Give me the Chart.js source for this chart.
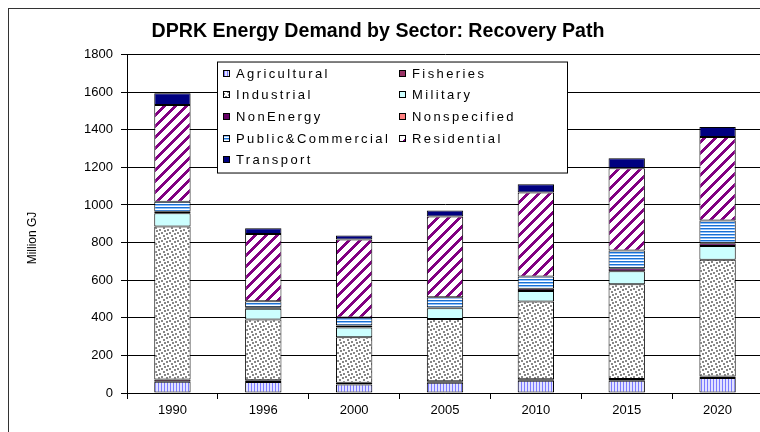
<!DOCTYPE html>
<html>
<head>
<meta charset="utf-8">
<script src="https://cdn.jsdelivr.net/npm/chart.js@4.4.1/dist/chart.umd.min.js"></script>
<style>
  html, body { margin: 0; padding: 0; background: #fff; overflow: hidden; width: 760px; height: 432px; }
  #frame { position: absolute; left: 8px; top: 8px; width: 800px; height: 460px; border: 1px solid #333; }
  #chart { position: absolute; left: -7px; top: 0; }
</style>
</head>
<body>
<div id="frame"></div>
<canvas id="chart" width="770" height="432"></canvas>
<script>
const years = ['1990', '1996', '2000', '2005', '2010', '2015', '2020']
const sectors = ['Agricultural', 'Fisheries', 'Industrial', 'Military', 'NonEnergy', 'Nonspecified', 'Public&Commercial', 'Residential', 'Transport']

// Million GJ
const agricultural = [60, 58, 45, 55, 65, 65, 80]
const fisheries = [12, 10, 9, 7, 8, 10, 8]
const industrial = [813, 323, 243, 331, 414, 503, 620]
const military = [71, 57, 51, 58, 55, 70, 74]
const nonEnergy = [8, 8, 11, 4, 12, 15, 15]
const nonSpecified = [0, 0, 0, 0, 0, 0, 0]
const publicCommercial = [53, 32, 42, 54, 66, 95, 120]
const residential = [515, 357, 415, 430, 446, 437, 445]
const transport = [62, 31, 21, 32, 44, 53, 53]

const yTicks = [0, 200, 400, 600, 800, 1000, 1200, 1400, 1600, 1800]

const FONT = '"Liberation Sans", Arial, sans-serif'

function makePattern (w, h, paint) {
  const c = document.createElement('canvas')
  c.width = w
  c.height = h
  const g = c.getContext('2d')
  g.fillStyle = '#fff'
  g.fillRect(0, 0, w, h)
  paint(g)
  return g.createPattern(c, 'repeat')
}

const vertLines = makePattern(3, 3, (g) => {
  g.fillStyle = '#e2e2ff'
  g.fillRect(1, 0, 2, 3)
  g.fillStyle = '#7a7aff'
  g.fillRect(0, 0, 1, 3)
})

const confetti = makePattern(8, 8, (g) => {
  g.fillStyle = '#888';
  [[0, 0], [5, 1], [2, 3], [6, 5], [3, 6]].forEach(([x, y]) => g.fillRect(x, y, 2, 2))
})

const horizLines = makePattern(3, 3, (g) => {
  g.fillStyle = '#1a6fd0'
  g.fillRect(0, 0, 3, 1)
  g.fillStyle = '#8cc0ff'
  g.fillRect(0, 1, 3, 1)
})

const diagStripes = makePattern(11, 11, (g) => {
  g.fillStyle = '#800080'
  for (let x = 0; x < 11; x++) {
    for (let y = 0; y < 11; y++) {
      if ((x + y) % 11 < 4) g.fillRect(x, y, 1, 1)
    }
  }
})

const fills = [vertLines, '#993366', confetti, '#ccffff', '#660066', '#ff8080', horizLines, diagStripes, '#000080']
const series = [agricultural, fisheries, industrial, military, nonEnergy, nonSpecified, publicCommercial, residential, transport]

const datasets = sectors.map((name, i) => ({
  label: name,
  data: series[i],
  backgroundColor: fills[i],
  borderColor: '#000',
  borderWidth: 1,
  borderSkipped: false,
  barPercentage: 0.4,
  categoryPercentage: 1
}))

// legend box inside the plot (two columns) and the rotated axis title
const legendBox = {
  id: 'legendBox',
  afterDraw (chart) {
    const { ctx, chartArea } = chart
    const x0 = chartArea.left + 90
    const y0 = chartArea.top + 7
    ctx.save()
    ctx.fillStyle = '#fff'
    ctx.fillRect(x0, y0, 350, 111)
    ctx.strokeStyle = '#000'
    ctx.lineWidth = 1
    ctx.strokeRect(x0 + 0.5, y0 + 0.5, 350, 111)
    ctx.font = '13px ' + FONT
    ctx.letterSpacing = '2.4px'
    ctx.textBaseline = 'middle'
    chart.data.datasets.forEach((ds, i) => {
      const col = i % 2
      const row = Math.floor(i / 2)
      const sx = x0 + 6 + col * 176
      const sy = Math.round(y0 + 11 + row * 21.7)
      ctx.fillStyle = ds.backgroundColor
      ctx.fillRect(sx, sy - 3, 7, 7)
      ctx.strokeStyle = '#000'
      ctx.strokeRect(sx + 0.5, sy - 2.5, 6, 6)
      ctx.fillStyle = '#000'
      ctx.fillText(ds.label, sx + 13, sy + 1)
    })
    ctx.restore()

    ctx.save()
    ctx.translate(40, 238)
    ctx.rotate(-Math.PI / 2)
    ctx.font = '12px ' + FONT
    ctx.fillStyle = '#000'
    ctx.textAlign = 'center'
    ctx.textBaseline = 'middle'
    ctx.fillText('Million GJ', 0, 0)
    ctx.restore()
  }
}

// eslint-disable-next-line no-new
new Chart(document.getElementById('chart'), {
  type: 'bar',
  data: { labels: years, datasets },
  plugins: [legendBox],
  options: {
    responsive: false,
    animation: false,
    layout: { padding: 0 },
    plugins: {
      legend: { display: false },
      tooltip: { enabled: false },
      title: {
        display: true,
        text: 'DPRK Energy Demand by Sector: Recovery Path',
        color: '#000',
        font: { family: FONT, size: 19.6, weight: 'bold' },
        padding: { top: 20, bottom: 11 }
      }
    },
    scales: {
      x: {
        stacked: true,
        afterFit (scale) { scale.height = 39 },
        grid: { display: true, drawOnChartArea: false, drawTicks: true, tickLength: 6, color: '#000', offset: true },
        border: { display: true, color: '#000', width: 1 },
        ticks: { color: '#000', padding: 4, font: { family: FONT, size: 13 } }
      },
      y: {
        stacked: true,
        min: 0,
        max: 1800,
        afterFit (scale) { scale.width = 134 },
        afterBuildTicks (scale) { scale.ticks = yTicks.map((v) => ({ value: v })) },
        grid: { color: '#000', tickLength: 6 },
        border: { display: true, color: '#000', width: 1 },
        ticks: {
          color: '#000',
          padding: 8,
          font: { family: FONT, size: 13 },
          callback: (v) => String(v)
        }
      }
    }
  }
})
</script>
</body>
</html>
